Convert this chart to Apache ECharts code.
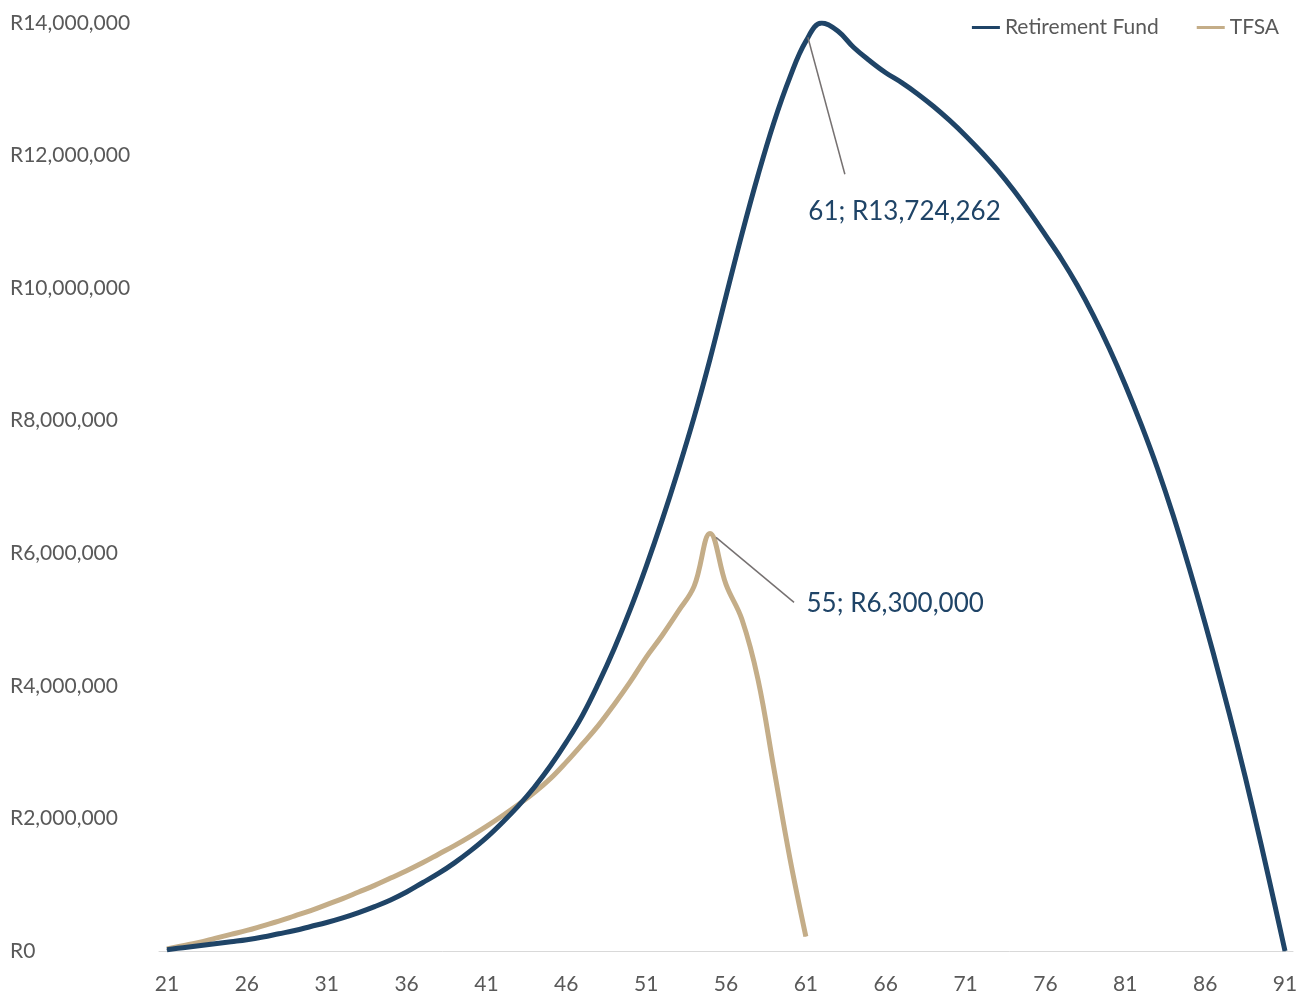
<!DOCTYPE html>
<html>
<head>
<meta charset="utf-8">
<title>Retirement Fund vs TFSA</title>
<script src="https://cdn.jsdelivr.net/npm/echarts@6/dist/echarts.min.js"></script>
<style>
  html, body { margin: 0; padding: 0; background: #ffffff; }
  #chart { width: 1302px; height: 996px; }
</style>
</head>
<body>
<div id="chart"></div>
<script>
// Age of the investor (years)
const ages = [21, 22, 23, 24, 25, 26, 27, 28, 29, 30,
              31, 32, 33, 34, 35, 36, 37, 38, 39, 40,
              41, 42, 43, 44, 45, 46, 47, 48, 49, 50,
              51, 52, 53, 54, 55, 56, 57, 58, 59, 60,
              61, 62, 63, 64, 65, 66, 67, 68, 69, 70,
              71, 72, 73, 74, 75, 76, 77, 78, 79, 80,
              81, 82, 83, 84, 85, 86, 87, 88, 89, 90, 91];

// Retirement fund balance (R) at each age
const retirementFund = [
  20000, 50000, 80000, 110000, 140000, 170000, 210000, 260000, 310000, 370000,
  430000, 500000, 580000, 670000, 770000, 890000, 1030000, 1170000, 1330000, 1510000,
  1710000, 1940000, 2190000, 2470000, 2790000, 3150000, 3550000, 4030000, 4560000, 5150000,
  5800000, 6500000, 7250000, 8050000, 8930000, 9880000, 10820000, 11700000, 12500000, 13180000,
  13724262, 14000000, 13880000, 13630000, 13430000, 13250000, 13100000, 12930000, 12740000, 12530000,
  12300000, 12050000, 11780000, 11480000, 11150000, 10800000, 10440000, 10040000, 9590000, 9090000,
  8540000, 7940000, 7290000, 6570000, 5780000, 4940000, 4050000, 3120000, 2130000, 1080000, 0
];

// Tax-free savings account balance (R), ages 21 to 61
const tfsa = [
  30000, 80000, 130000, 190000, 250000, 310000, 380000, 450000, 530000, 610000,
  700000, 790000, 890000, 990000, 1100000, 1210000, 1330000, 1460000, 1590000, 1730000,
  1880000, 2040000, 2210000, 2390000, 2600000, 2850000, 3120000, 3400000, 3720000, 4060000,
  4430000, 4760000, 5120000, 5500000, 6300000, 5530000, 5000000, 4100000, 2750000, 1400000, 220000
];

// Ages whose values are called out on the chart
const retirementCalloutAge = 61;
const tfsaCalloutAge = 55;

const seriesNames = ['Retirement Fund', 'TFSA'];
const colors = ['#1F4467', '#C4AD88'];
const leaderColor = '#767171';

const FONT = 'Lato, "Open Sans", sans-serif';
const randFormat = v => 'R' + Math.round(v).toLocaleString('en-US');

function withCallout(values, calloutAge) {
  return values.map((v, i) => {
    if (ages[i] === calloutAge) {
      return { value: v, label: { show: true } };
    }
    return v;
  });
}

const chart = echarts.init(document.getElementById('chart'), null, { renderer: 'canvas' });

const calloutLabel = {
  show: false,
  position: 'right',
  distance: 4,
  color: '#1F4467',
  fontFamily: FONT,
  fontSize: 26,
  formatter: p => ages[p.dataIndex] + '; ' + randFormat(p.value)
};

// Callout placement relative to its data point: label shift and leader line end
const callouts = [
  { series: 0, age: retirementCalloutAge, values: retirementFund, dx: -2, dy: 170, from: [2, -4], to: [39, 133] },
  { series: 1, age: tfsaCalloutAge, values: tfsa, dx: 92, dy: 70, from: [6, 4], to: [84, 69] }
];

const option = {
  animation: false,
  backgroundColor: '#ffffff',
  textStyle: { fontFamily: FONT },
  grid: { left: 159, right: 9, top: 23, bottom: 45 },
  legend: {
    data: seriesNames,
    right: 18,
    top: 12,
    icon: 'rect',
    itemWidth: 28,
    itemHeight: 3,
    itemGap: 38,
    textStyle: { color: '#595959', fontSize: 21, fontFamily: FONT }
  },
  xAxis: {
    type: 'category',
    data: ages,
    boundaryGap: true,
    axisLine: { show: true, lineStyle: { color: '#D9D9D9', width: 1 } },
    axisTick: { show: false },
    axisLabel: {
      interval: 4,
      margin: 23,
      color: '#595959',
      fontSize: 21,
      fontFamily: FONT
    },
    splitLine: { show: false }
  },
  yAxis: {
    type: 'value',
    min: 0,
    max: 14000000,
    interval: 2000000,
    axisLine: { show: false },
    axisTick: { show: false },
    splitLine: { show: false },
    axisLabel: {
      align: 'left',
      margin: 149,
      color: '#595959',
      fontSize: 21,
      fontFamily: FONT,
      formatter: randFormat
    }
  },
  series: [0, 1].map(s => ({
    name: seriesNames[s],
    type: 'line',
    data: withCallout(s === 0 ? retirementFund : tfsa, callouts[s].age),
    smooth: 0.4,
    symbol: 'circle',
    symbolSize: 1,
    showSymbol: true,
    showAllSymbol: true,
    itemStyle: { color: colors[s] },
    lineStyle: { color: colors[s], width: 5 },
    label: calloutLabel,
    labelLayout: p => (p.text ? { dx: callouts[s].dx, dy: callouts[s].dy } : null),
    emphasis: { disabled: true },
    z: 3 - s
  }))
};

chart.setOption(option);

// Leader lines from each called-out point towards its label
const leaderLines = callouts.map(c => {
  const idx = ages.indexOf(c.age);
  const [px, py] = chart.convertToPixel({ seriesIndex: c.series }, [idx, c.values[idx]]);
  return {
    type: 'line',
    z: 10,
    silent: true,
    shape: { x1: px + c.from[0], y1: py + c.from[1], x2: px + c.to[0], y2: py + c.to[1] },
    style: { stroke: leaderColor, lineWidth: 1.5 }
  };
});
chart.setOption({ graphic: leaderLines });
</script>
</body>
</html>
